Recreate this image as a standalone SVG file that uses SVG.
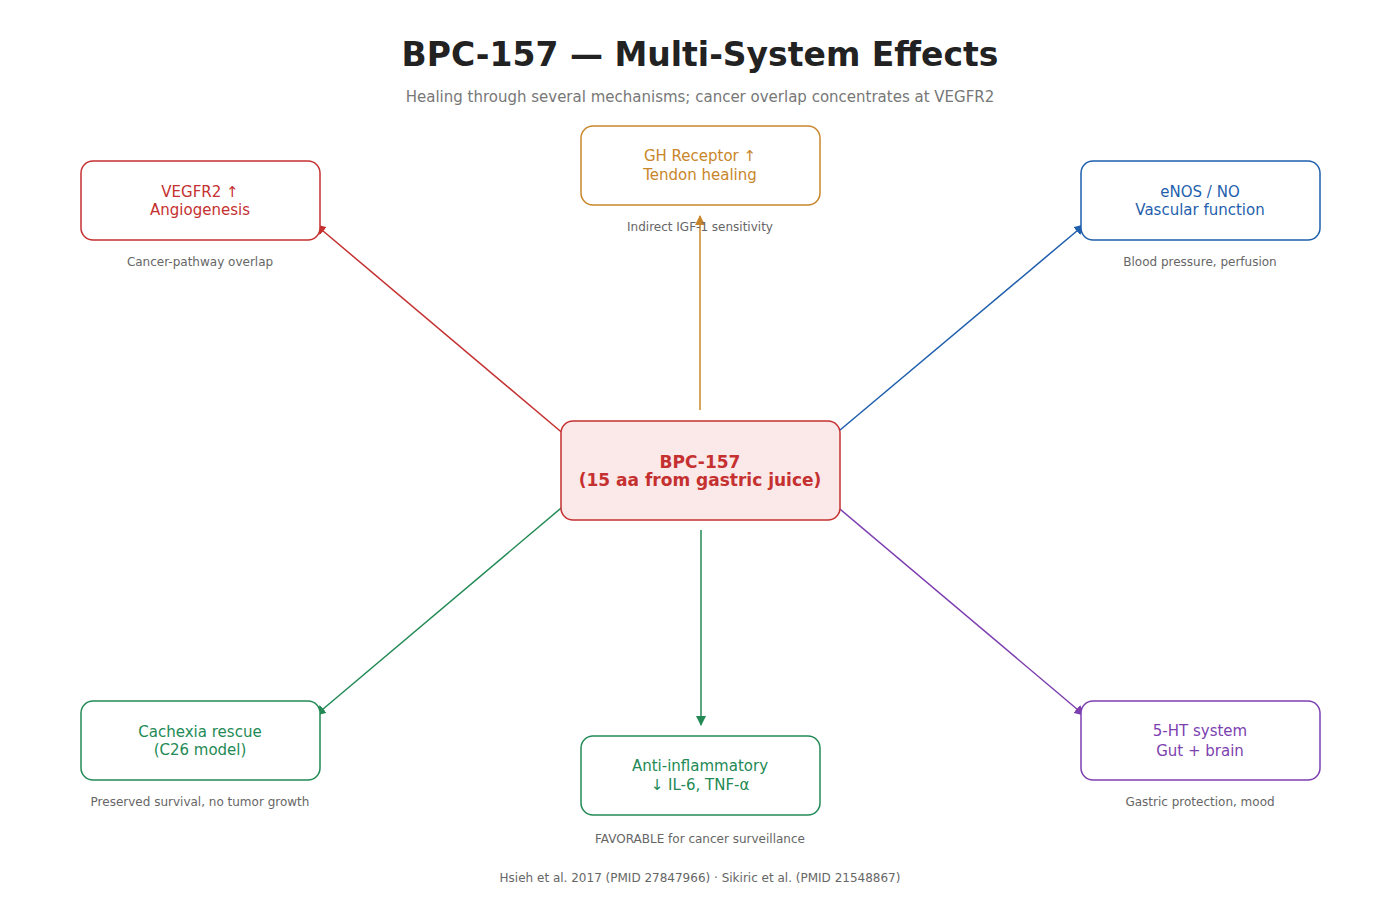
<svg xmlns="http://www.w3.org/2000/svg" width="1400" height="900" viewBox="0 0 1400 900">
<style>
text{font-family:"DejaVu Sans","Noto Sans",sans-serif;text-anchor:middle}
.t{font-size:15px}
.cap{font-size:12px;fill:#666}
.box{fill:#fff;stroke-width:1.5}
.ln{stroke-width:1.5;fill:none}
</style>
<defs>
<marker id="mr" viewBox="0 0 10 10" refX="9" refY="5" markerWidth="7" markerHeight="7" orient="auto"><path d="M0,0L10,5L0,10z" fill="#c53030"/></marker>
<marker id="mo" viewBox="0 0 10 10" refX="9" refY="5" markerWidth="7" markerHeight="7" orient="auto"><path d="M0,0L10,5L0,10z" fill="#c8862a"/></marker>
<marker id="mb" viewBox="0 0 10 10" refX="9" refY="5" markerWidth="7" markerHeight="7" orient="auto"><path d="M0,0L10,5L0,10z" fill="#1f5fad"/></marker>
<marker id="mg" viewBox="0 0 10 10" refX="9" refY="5" markerWidth="7" markerHeight="7" orient="auto"><path d="M0,0L10,5L0,10z" fill="#238a55"/></marker>
<marker id="mp" viewBox="0 0 10 10" refX="9" refY="5" markerWidth="7" markerHeight="7" orient="auto"><path d="M0,0L10,5L0,10z" fill="#7d3fb0"/></marker>
</defs>
<rect width="1400" height="900" fill="#fff"/>
<text x="700" y="66" style="font-size:33px;font-weight:bold;fill:#222">BPC-157 — Multi-System Effects</text>
<text x="700" y="102" style="font-size:15px;fill:#777">Healing through several mechanisms; cancer overlap concentrates at VEGFR2</text>
<g id="connectors">
<line class="ln" stroke="#c53030" x1="572" y1="441" x2="316" y2="225" marker-end="url(#mr)"/>
<line class="ln" stroke="#c8862a" x1="700" y1="410" x2="700" y2="216" marker-end="url(#mo)"/>
<line class="ln" stroke="#1f5fad" x1="827" y1="441" x2="1084" y2="225" marker-end="url(#mb)"/>
<line class="ln" stroke="#238a55" x1="573" y1="498" x2="316" y2="715" marker-end="url(#mg)"/>
<line class="ln" stroke="#238a55" x1="701" y1="530" x2="701" y2="725" marker-end="url(#mg)"/>
<line class="ln" stroke="#7d3fb0" x1="828" y1="499" x2="1084" y2="715" marker-end="url(#mp)"/>
</g>
<g id="vegfr2"><rect class="box" x="81" y="161" width="239" height="79" rx="12" stroke="#c53030"/>
<text class="t" x="200" y="197" fill="#c53030">VEGFR2 ↑</text><text class="t" x="200" y="215" fill="#c53030">Angiogenesis</text>
<text class="cap" x="200" y="266">Cancer-pathway overlap</text></g>
<g id="gh"><rect class="box" x="581" y="126" width="239" height="79" rx="12" stroke="#c8862a"/>
<text class="t" x="700" y="161" fill="#c8862a">GH Receptor ↑</text><text class="t" x="700" y="180" fill="#c8862a">Tendon healing</text>
<text class="cap" x="700" y="231">Indirect IGF-1 sensitivity</text></g>
<g id="enos"><rect class="box" x="1081" y="161" width="239" height="79" rx="12" stroke="#1f5fad"/>
<text class="t" x="1200" y="197" fill="#1f5fad">eNOS / NO</text><text class="t" x="1200" y="215" fill="#1f5fad">Vascular function</text>
<text class="cap" x="1200" y="266">Blood pressure, perfusion</text></g>
<g id="center"><rect x="561" y="421" width="279" height="99" rx="12" fill="#fbe8e8" stroke="#c53030" stroke-width="1.5"/>
<text x="700" y="468" style="font-size:17px;font-weight:bold" fill="#c53030">BPC-157</text>
<text x="700" y="486" style="font-size:17px;font-weight:bold" fill="#c53030">(15 aa from gastric juice)</text></g>
<g id="cachexia"><rect class="box" x="81" y="701" width="239" height="79" rx="12" stroke="#238a55"/>
<text class="t" x="200" y="737" fill="#238a55">Cachexia rescue</text><text class="t" x="200" y="755" fill="#238a55">(C26 model)</text>
<text class="cap" x="200" y="806">Preserved survival, no tumor growth</text></g>
<g id="antiinflam"><rect class="box" x="581" y="736" width="239" height="79" rx="12" stroke="#238a55"/>
<text class="t" x="700" y="771" fill="#238a55">Anti-inflammatory</text><text class="t" x="700" y="790" fill="#238a55">↓ IL-6, TNF-α</text>
<text class="cap" x="700" y="843">FAVORABLE for cancer surveillance</text></g>
<g id="ht5"><rect class="box" x="1081" y="701" width="239" height="79" rx="12" stroke="#7d3fb0"/>
<text class="t" x="1200" y="736" fill="#7d3fb0">5-HT system</text><text class="t" x="1200" y="756" fill="#7d3fb0">Gut + brain</text>
<text class="cap" x="1200" y="806">Gastric protection, mood</text></g>
<text class="cap" x="700" y="882">Hsieh et al. 2017 (PMID 27847966) · Sikiric et al. (PMID 21548867)</text>
</svg>
